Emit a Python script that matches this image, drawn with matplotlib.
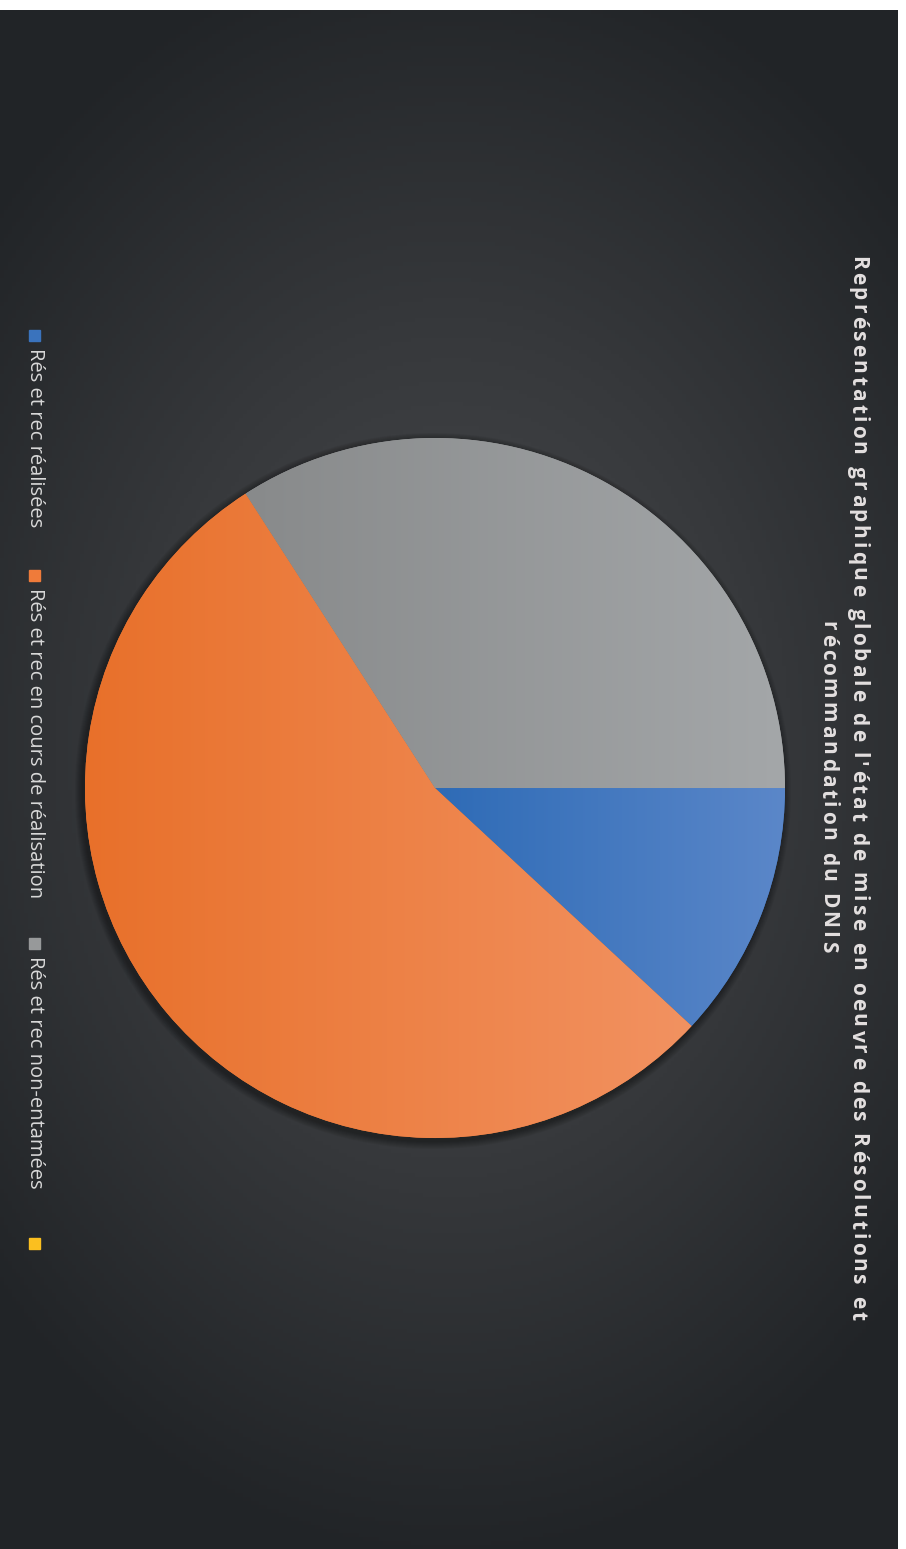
import numpy as np
import matplotlib.pyplot as plt
from matplotlib.colors import LinearSegmentedColormap
from matplotlib.font_manager import FontProperties

# données
labels = ["Rés et rec réalisées", "Rés et rec en cours de réalisation",
          "Rés et rec non-entamées", ""]
values = [11.9, 54.0, 34.1, 0.0]
colors = ["#3a73bd", "#ef7b3a", "#97999a", "#fbbf1f"]
# dégradés gauche -> droite pour chaque part
grads = [("#2e6bb6", "#5b87c9"), ("#e8702a", "#f29261"), ("#888a8b", "#a4a7a9")]
title_lines = ["Représentation graphique globale de l'état de mise en oeuvre des Résolutions et",
               "récommandation du DNIS"]

W, H = 906, 1549
fig = plt.figure(figsize=(W / 100, H / 100), dpi=100, facecolor="white")
ax = fig.add_axes([0, 0, 1, 1])

# fond sombre avec dégradé radial
x0, x1, y0, y1 = 0, 898, 0, H - 10
yy, xx = np.mgrid[y0:y1:4, x0:x1:4]
r = np.sqrt(((xx - 450) / 620) ** 2 + ((yy - 800) / 820) ** 2)
bg = LinearSegmentedColormap.from_list("bg", ["#494b4e", "#37393c", "#212427"])
ax.imshow(np.clip(r, 0, 1), cmap=bg, extent=(x0, x1, y0, y1), origin="lower",
          aspect="auto", zorder=0)

# camembert
cx, cy, R = 435, H - 788, 350
for k in range(8):
    ax.add_patch(plt.Circle((cx - 2, cy - 3), R + 8 - k, color="black",
                            alpha=0.05, lw=0, zorder=1))
wedges, _ = ax.pie(values, colors=colors, startangle=0, counterclock=False,
                   center=(cx, cy), radius=R, frame=True,
                   wedgeprops=dict(linewidth=0, zorder=2))
ax.set_xlim(0, W)
ax.set_ylim(0, H)
ax.set_aspect("equal")
ax.axis("off")

gx = np.linspace(0, 1, 256).reshape(1, -1)
for w, (c0, c1) in zip(wedges[:3], grads):
    verts = w.get_path().vertices
    wx0, wx1 = verts[:, 0].min(), verts[:, 0].max()
    cm = LinearSegmentedColormap.from_list("g", [c0, c1])
    im = ax.imshow(gx, cmap=cm, extent=(wx0, wx1, cy - R, cy + R),
                   aspect="auto", zorder=3)
    im.set_clip_path(w)

# titre (tourné, avec espacement des lettres)
renderer = fig.canvas.get_renderer()
tprop = FontProperties(family="Open Sans", weight="bold", size=15)


def prefix_widths(s, prop):
    return [renderer.get_text_width_height_descent(s[:i], prop, ismath=False)[0]
            if i else 0.0 for i in range(len(s) + 1)]


def spaced_vertical(s, xbase, yc, spacing, prop, color):
    widths = prefix_widths(s, prop)
    total = widths[-1] + spacing * (len(s) - 1)
    top = yc + total / 2
    for i, ch in enumerate(s):
        if ch == " ":
            continue
        ax.text(xbase, top - widths[i] - spacing * i, ch, rotation=-90,
                rotation_mode="anchor", ha="left", va="baseline",
                fontproperties=prop, color=color)


w0 = prefix_widths(title_lines[0], tprop)[-1]
sp = (1065 - w0) / (len(title_lines[0]) - 1)
spaced_vertical(title_lines[0], 852, H - 788, sp, tprop, "#e4e0e0")
spaced_vertical(title_lines[1], 822, H - 787, sp, tprop, "#e4e0e0")

# légende (tournée)
leg_y = [335, 575, 943, 1243]
for lab, col, py in zip(labels, colors, leg_y):
    ax.add_patch(plt.Rectangle((29, H - py - 6), 11, 11, color=col, zorder=4))
    if lab:
        ax.text(35, H - py - 13, lab, rotation=-90, ha="center", va="top",
                fontsize=14.5, color="#d9d9d9", family="Open Sans")

fig.savefig("out.png", dpi=100, facecolor="white")
